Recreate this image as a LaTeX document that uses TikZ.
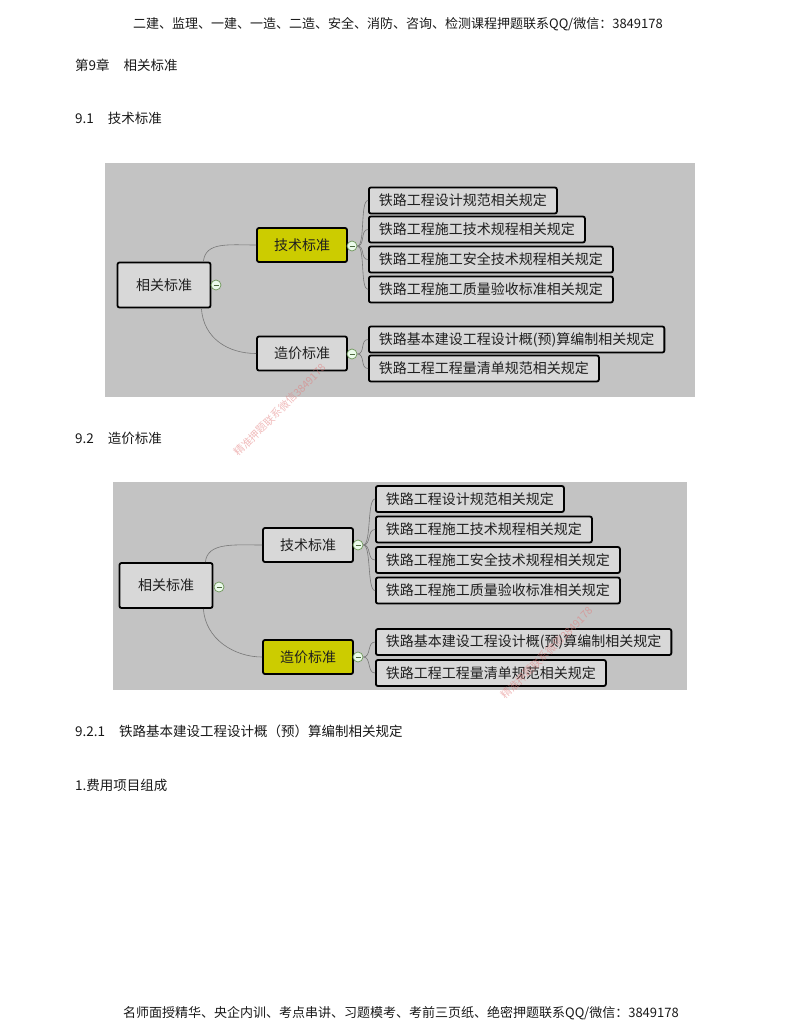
\documentclass[tikz,border=0pt]{standalone}
\usepackage{fontspec}
\setmainfont{Noto Sans CJK SC}
\usepackage{xcolor}
\usetikzlibrary{positioning}

\definecolor{mapbg}{RGB}{195,195,195}
\definecolor{topicfill}{RGB}{216,216,216}
\definecolor{keyfill}{RGB}{204,204,0}
\definecolor{linkgray}{RGB}{120,120,120}
\definecolor{foldgreen}{RGB}{110,150,90}
\definecolor{markpink}{RGB}{225,120,120}

\begin{document}
\begin{tikzpicture}[
    x=1pt, y=-1pt,
    topic/.style={draw=black, line width=1.8pt, rounded corners=2pt, fill=topicfill, text=black!88,
        font=\fontsize{14}{16}\selectfont, minimum height=26pt, inner xsep=10pt, inner ysep=0pt},
    leaf/.style={topic, anchor=west},
    branch/.style={topic, minimum width=90pt, minimum height=34pt},
    root/.style={topic, minimum width=93pt, minimum height=45pt},
    fold/.style={circle, draw=foldgreen, fill=topicfill!70!green!20, line width=0.7pt, minimum size=10pt, inner sep=0pt},
    link/.style={draw=linkgray, line width=0.6pt},
    bodytext/.style={anchor=west, inner sep=0pt, font=\fontsize{13.5}{15}\selectfont, text=black!90},
    banner/.style={inner sep=0pt, font=\fontsize{13}{15}\selectfont, text=black!90},
    watermark/.style={inner sep=0pt, rotate=45, font=\fontsize{10.5}{12}\selectfont, text=markpink, opacity=0.5}
]
    \useasboundingbox (0,0) rectangle (800,1035);

    % Page text
    \node[banner] (head) at (398,24) {二建、监理、一建、一造、二造、安全、消防、咨询、检测课程押题联系QQ/微信：3849178};
    \node[bodytext] (chap) at (75,65) {第9章\hspace{14pt}相关标准};
    \node[bodytext] (sec1) at (75,118) {9.1\hspace{14pt}技术标准};
    \node[bodytext] (sec2) at (75,438) {9.2\hspace{14pt}造价标准};
    \node[bodytext] (sec21) at (75,731) {9.2.1\hspace{14pt}铁路基本建设工程设计概（预）算编制相关规定};
    \node[bodytext] (item1) at (75,785) {1.费用项目组成};
    \node[banner] (foot) at (401,1013) {名师面授精华、央企内训、考点串讲、习题模考、考前三页纸、绝密押题联系QQ/微信：3849178};

    % Map 1 (technical standards highlighted)
    \fill[mapbg] (105,163) rectangle (695,397);
    \node[root] (rootA) at (164,285) {相关标准};
    \node[branch, fill=keyfill] (techA) at (302,245) {技术标准};
    \node[branch] (costA) at (302,353.5) {造价标准};
    \node[leaf] (a1) at (368,200.5) {铁路工程设计规范相关规定};
    \node[leaf] (a2) at (368,229.5) {铁路工程施工技术规程相关规定};
    \node[leaf] (a3) at (368,259.5) {铁路工程施工安全技术规程相关规定};
    \node[leaf] (a4) at (368,289.5) {铁路工程施工质量验收标准相关规定};
    \node[leaf] (a5) at (368,339.5) {铁路基本建设工程设计概(预)算编制相关规定};
    \node[leaf] (a6) at (368,368.5) {铁路工程工程量清单规范相关规定};
    \node[fold] (foldA) at (216,285) {};
    \node[fold] (foldAt) at (352,246) {};
    \node[fold] (foldAc) at (352,354) {};

    \draw[link] ([xshift=-8pt]rootA.north east) .. controls +(2,-20) and +(-28,0) .. (techA.west);
    \draw[link] ([xshift=-10pt]rootA.south east) .. controls +(2,30) and +(-28,0) .. (costA.west);
    \draw[link] (foldAt.east) .. controls +(8,0) and +(-8,0) .. (a1.west);
    \draw[link] (foldAt.east) .. controls +(8,0) and +(-8,0) .. (a2.west);
    \draw[link] (foldAt.east) .. controls +(8,0) and +(-8,0) .. (a3.west);
    \draw[link] (foldAt.east) .. controls +(8,0) and +(-8,0) .. (a4.west);
    \draw[link] (foldAc.east) .. controls +(8,0) and +(-8,0) .. (a5.west);
    \draw[link] (foldAc.east) .. controls +(8,0) and +(-8,0) .. (a6.west);
    \foreach \f in {foldA, foldAt, foldAc}
        \draw[foldgreen!70!black, line width=0.7pt] ([xshift=-2.5pt]\f.center) -- ([xshift=2.5pt]\f.center);

    % Map 2 (cost standards highlighted)
    \fill[mapbg] (113,482) rectangle (687,690);
    \node[root] (rootB) at (166,585.5) {相关标准};
    \node[branch] (techB) at (308,545) {技术标准};
    \node[branch, fill=keyfill] (costB) at (308,657) {造价标准};
    \node[leaf] (b1) at (375,499) {铁路工程设计规范相关规定};
    \node[leaf] (b2) at (375,529.5) {铁路工程施工技术规程相关规定};
    \node[leaf] (b3) at (375,560) {铁路工程施工安全技术规程相关规定};
    \node[leaf] (b4) at (375,590.5) {铁路工程施工质量验收标准相关规定};
    \node[leaf] (b5) at (375,642) {铁路基本建设工程设计概(预)算编制相关规定};
    \node[leaf] (b6) at (375,673) {铁路工程工程量清单规范相关规定};
    \node[fold] (foldB) at (219,587) {};
    \node[fold] (foldBt) at (358,545) {};
    \node[fold] (foldBc) at (358,657) {};

    \draw[link] ([xshift=-8pt]rootB.north east) .. controls +(2,-20) and +(-28,0) .. (techB.west);
    \draw[link] ([xshift=-10pt]rootB.south east) .. controls +(2,30) and +(-28,0) .. (costB.west);
    \draw[link] (foldBt.east) .. controls +(8,0) and +(-8,0) .. (b1.west);
    \draw[link] (foldBt.east) .. controls +(8,0) and +(-8,0) .. (b2.west);
    \draw[link] (foldBt.east) .. controls +(8,0) and +(-8,0) .. (b3.west);
    \draw[link] (foldBt.east) .. controls +(8,0) and +(-8,0) .. (b4.west);
    \draw[link] (foldBc.east) .. controls +(8,0) and +(-8,0) .. (b5.west);
    \draw[link] (foldBc.east) .. controls +(8,0) and +(-8,0) .. (b6.west);
    \foreach \f in {foldB, foldBt, foldBc}
        \draw[foldgreen!70!black, line width=0.7pt] ([xshift=-2.5pt]\f.center) -- ([xshift=2.5pt]\f.center);

    % Watermarks
    \node[watermark] (markA) at (280,410) {精准押题联系微信3849178};
    \node[watermark] (markB) at (547,653) {精准押题联系微信3849178};
\end{tikzpicture}
\end{document}
